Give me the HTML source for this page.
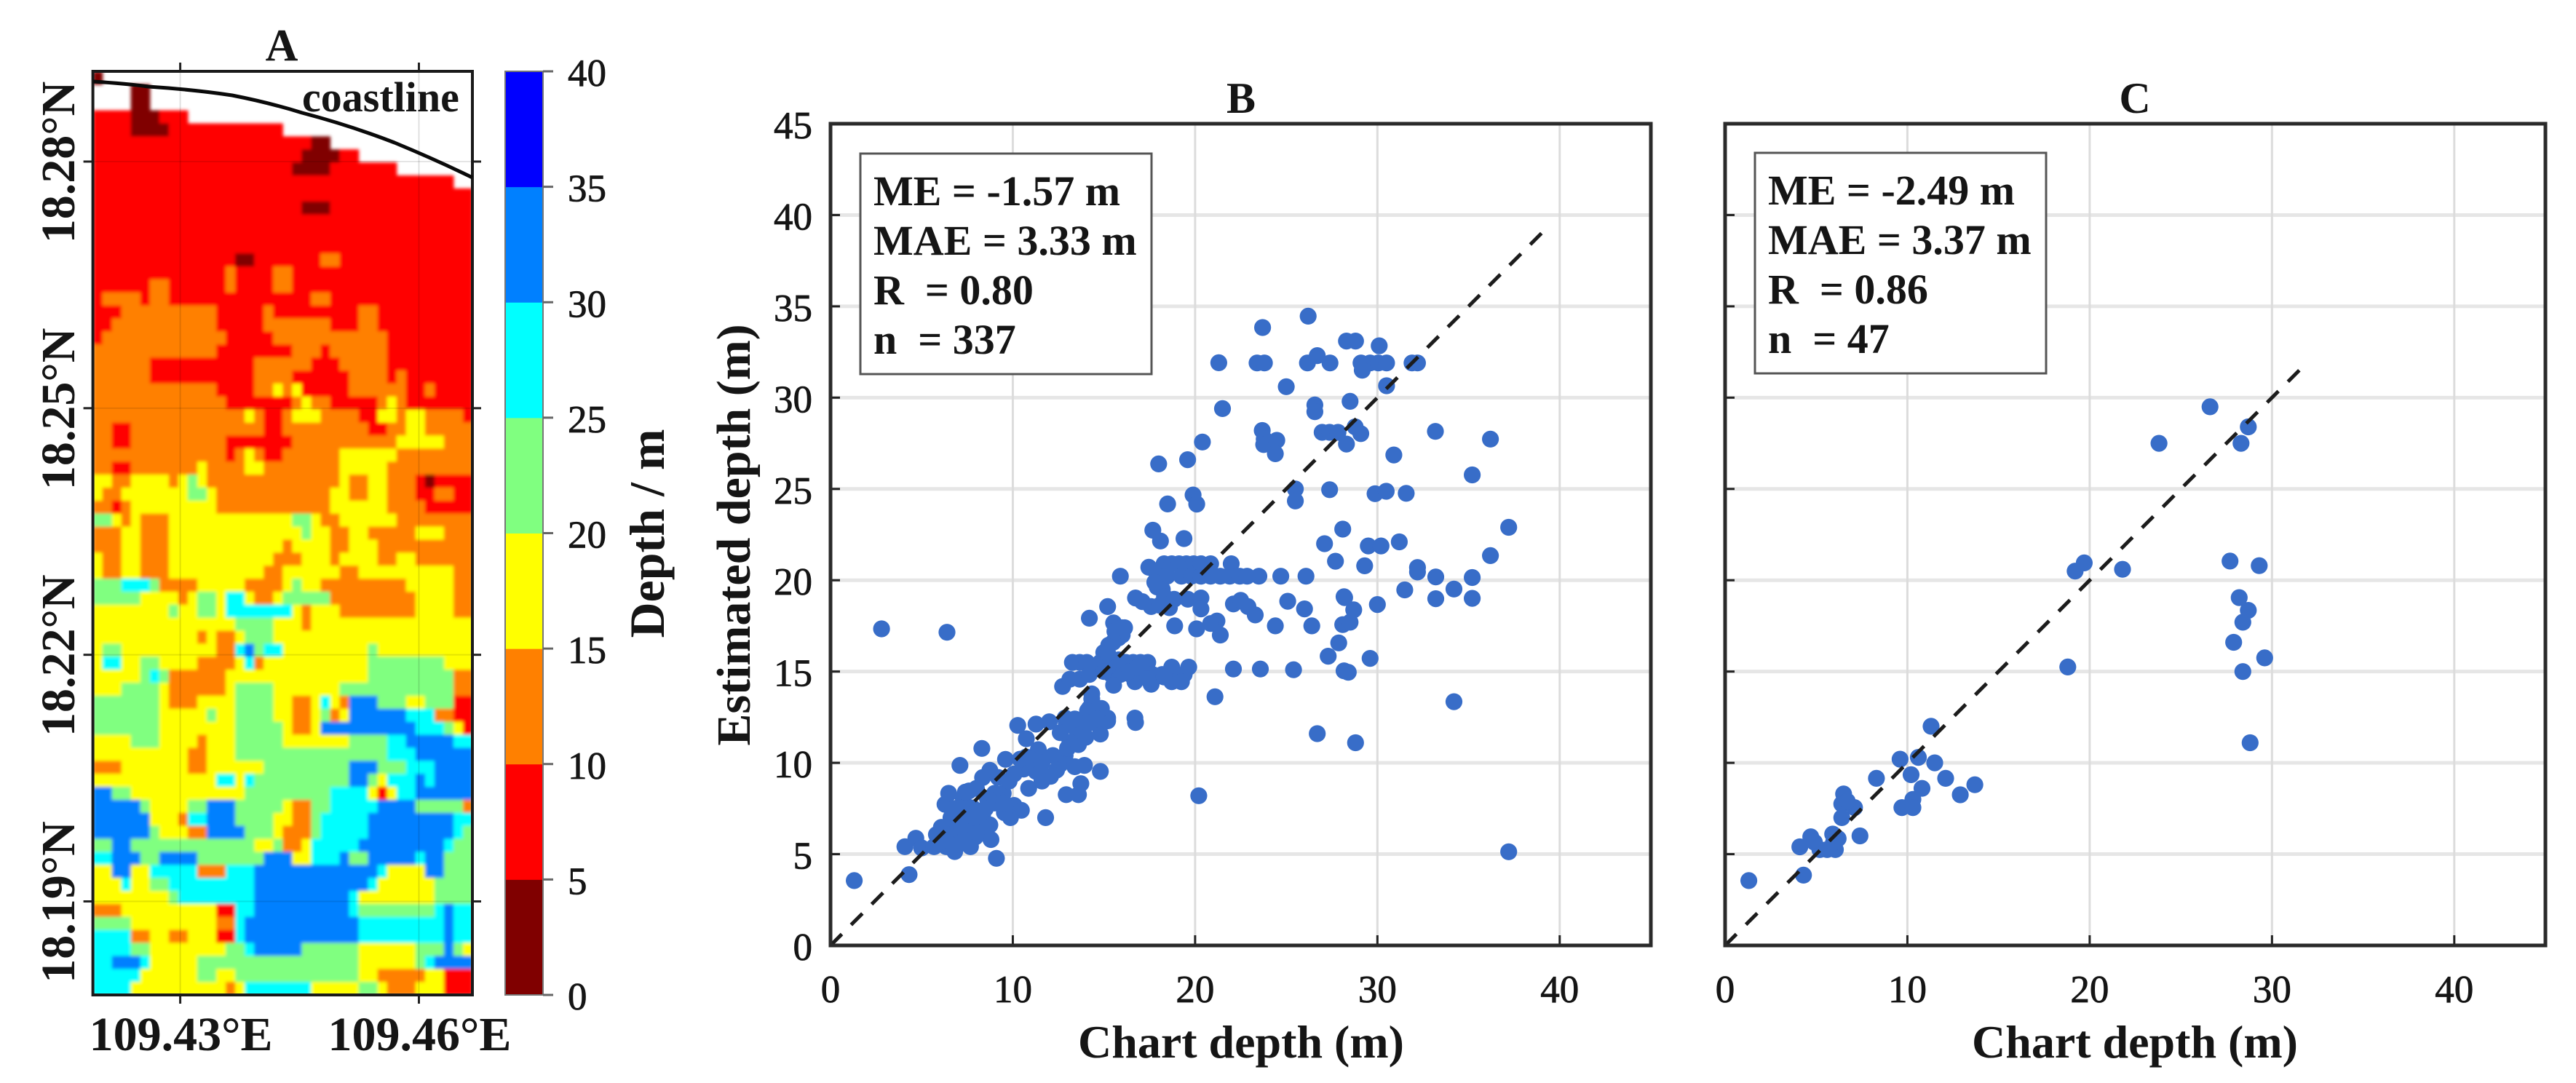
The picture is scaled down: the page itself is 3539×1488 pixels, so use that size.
<!DOCTYPE html>
<html lang="en">
<head>
<meta charset="utf-8">
<title>Depth map and scatter comparison</title>
<style>
html,body{margin:0;padding:0;background:#fff;}
svg{display:block;font-family:"Liberation Serif",serif;}
text{fill:#151515;}
.tick{font-size:53px;stroke:#151515;stroke-width:.8px;}
.bold{font-weight:bold;}
.stat{font-size:58px;font-weight:bold;white-space:pre;}
</style>
</head>
<body>
<svg id="fig" xmlns="http://www.w3.org/2000/svg" width="3539" height="1488" viewBox="0 0 3539 1488">
  <rect width="3539" height="1488" fill="#fff"/>
  <defs>
    <filter id="soft" x="0" y="0" width="100%" height="100%"><feGaussianBlur stdDeviation="2.4"/></filter>
    <clipPath id="mapClip"><rect x="128" y="98" width="521" height="1269"/></clipPath>
  </defs>
  <g id="panelA">
    <g id="heat" clip-path="url(#mapClip)"></g>
    <g id="axisA"></g>
    <path d="M128 112 Q175 115 204 119 Q265 123 319 131 Q370 141 415 155 Q480 172 542 196 Q600 220 649 244" fill="none" stroke="#0a0a0a" stroke-width="5"/>
    <text x="415" y="153" font-size="58" class="bold">coastline</text>
    <text x="387" y="83" font-size="62" class="bold" text-anchor="middle">A</text>
    <g id="colorbar"></g>
    <text transform="translate(912 733) rotate(-90)" font-size="68" class="bold" text-anchor="middle">Depth / m</text>
  </g>
  <g id="panelB">
    <text x="1705" y="155" font-size="60" class="bold" text-anchor="middle">B</text>
    <text transform="translate(1030 735) rotate(-90)" font-size="66" class="bold" text-anchor="middle">Estimated depth (m)</text>
    <text x="1705" y="1453" font-size="64" class="bold" text-anchor="middle">Chart depth (m)</text>
  </g>
  <g id="panelC">
    <text x="2933" y="155" font-size="60" class="bold" text-anchor="middle">C</text>
    <text x="2933" y="1453" font-size="64" class="bold" text-anchor="middle">Chart depth (m)</text>
  </g>
</svg>
<script>
const depthLevels = [0, 5, 10, 15, 20, 25, 30, 35, 40];
const lonTicks = [109.43, 109.46];
const latTicks = [18.28, 18.25, 18.22, 18.19];
/* depth class per grid cell: digit = depth band index, '.' = land / no data */
const depthRows = [
"0......... .......... .......... ..........",
"....00.... .......... .......... ..........",
"....00.... .......... .......... ..........",
"1111000111 .......... .......... ..........",
"1111000011 1111111111 .......... ..........",
"1111111111 1111111111 11100..... ..........",
"1111111111 1111111111 11000011.. ..........",
"1111111111 1111111111 1000011111 11........",
"1111111111 1111111111 1111111111 11111111..",
"1111111111 1111111111 1111111111 1111111111",
"1111111111 1111111111 1100011111 1111111111",
"1111111111 1111111111 1111111111 1111111111",
"1111111111 1111111111 1111111111 1111111111",
"1111111111 1111111111 1111111111 1111111111",
"1111111111 1111100111 1111221111 1111111111",
"1111111111 1111211112 2111111111 1111111111",
"1111112211 1111211112 2111111111 1111111111",
"1222212211 1111111111 1112211111 1111111111",
"1112222222 2221111121 1111111122 1111111111",
"1122222222 2221111122 2222211122 1111111111",
"1222222222 2222111112 2222222222 2111111111",
"2222222222 2221111111 1222122222 2111111111",
"2222221111 1111111222 2221112222 2111111111",
"2222221111 1111111222 2111111222 2121111111",
"2222222222 2221111223 2311111222 2221121111",
"2222222222 2222111111 1232211111 2321111111",
"2222222222 2222223211 2333222211 3323322221",
"2211222222 2222222211 2222222221 1223322222",
"2211222222 2222111111 1222222222 2233333222",
"2222222222 2222123211 2222223333 3322222222",
"2211222222 2322223322 2222223333 3222222222",
"3322333323 4322222222 2222223223 3222101111",
"3223333333 4432222222 2222233223 3222112211",
"2212333333 3332222222 2222233333 3222211111",
"4432322233 3333333333 3443223333 3322222222",
"2223322233 3333333333 3343322332 2222333222",
"2223322233 3333333333 2333322333 2222222222",
"3223322233 3333333332 2233323333 2233222222",
"3223322233 3333333322 3333332233 3333333322",
"4445554222 2333332222 3433222222 2223333322",
"4444433332 3443553223 4444422222 2222333322",
"3333333343 3443555555 5323332222 2222333322",
"3333333333 3333344443 3323333333 3333333333",
"3333333333 3232234443 3333333333 3333333333",
"3443333333 3332256455 3333333334 3333333333",
"3553344333 3222235233 3333333334 4444444333",
"3333345422 2222333333 3333333334 4444444422",
"3334444322 2222344443 3333334444 4444444422",
"4444444322 2333344443 3223532666 4443344411",
"4444444333 3343344443 3223423666 6665552211",
"4444444333 3333344444 3223666666 6666555431",
"3333444333 3233344444 3333333444 4556666655",
"3333333333 2233344444 4444444444 4555666666",
"2223333333 2233333344 4444444666 4445556666",
"3333333333 3335535444 4444444664 3555656666",
"6644333333 3333334444 4444455553 1355666666",
"6666643333 4466644444 3224455555 6666444442",
"6666663332 5566644443 3224555556 6666666655",
"6666664333 2266664443 2224555556 6666666654",
"4466444444 4444444334 2235555566 6666666544",
"5566644666 6444444466 6335556446 6666566444",
"3366335555 5222555666 6666666666 5333366444",
"3335334455 5555555666 6666666665 3333334444",
"3333333345 5555555666 6666666533 3333334444",
"2223333333 3331155666 6666666544 4444445655",
"4444333333 3332256666 6666666655 5555555655",
"5555223322 3331156666 6666666655 5555555655",
"5555443333 3333445666 6644444433 3333444643",
"5566653333 3444444444 4444444433 3333456666",
"5555533333 3443344444 4444444433 2222233111",
"5555333333 3333235555 5553333344 3222333111"
];
const scatterXTicks = [0, 10, 20, 30, 40];
const scatterYTicks = [0, 5, 10, 15, 20, 25, 30, 35, 40, 45];
const chartDepthB = [
26.2,23.7,28.3,28.8,30.1,21.3,23.4,23.8,26.16,26.7,
27.4,29.1,29.6,30.05,30.5,29.17,31.9,32.2,25.0,30.5,
28.5,21.5,26.57,26.57,26.97,27.38,27.84,28.78,29.09,28.3,
23.68,23.79,23.76,24.48,24.4,20.4,19.59,18.0,33.18,36.2,
30.9,35.2,25.5,25.5,27.38,29.87,30.48,31.58,19.89,20.09,
18.49,19.39,17.68,18.1,28.1,27.1,29.5,30.2,31.2,37.2,
27.7,29.3,36.2,32.2,32.2,33.2,35.2,23.5,24.7,26.08,
15.9,17.46,18.3,18.72,19.12,19.52,19.92,20.32,20.85,21.98,
17.92,18.46,19.25,19.79,20.32,20.85,21.38,21.9,22.45,22.85,
17.92,18.2,17.79,16.73,17.1,17.59,18.06,18.59,18.32,18.85,
19.6,20.32,20.32,15.2,14.2,15.53,16.13,18.88,20.08,21.2,
20.85,21.38,22.1,22.5,22.9,23.3,25.08,26.0,26.4,24.4,
28.17,28.1,27.88,27.3,28.17,25.4,23.58,22.1,21.09,13.27,
13.67,14.06,16.2,16.6,17.0,17.4,18.72,19.65,15.4,15.9,
16.46,17.0,17.66,18.19,18.85,19.4,15.53,17.59,16.7,18.72,
19.25,15.2,15.8,15.26,15.8,14.99,16.0,12.73,13.13,13.67,
14.2,14.33,14.2,14.86,15.2,14.2,12.87,16.7,
4.31,9.1,4.08,4.68,5.0,11.8,16.73,8.3,7.1,6.48,
6.28,14.8,13.93,13.73,13.6,12.93,10.27,11.27,12.0,10.74,
12.93,12.6,14.8,15.2,14.86,14.33,14.1,14.2,13.5,13.13,
12.87,11.4,10.74,9.6,8.74,8.34,7.6,7.28,10.6,11.27,
12.07,12.6,13.4,10.87,10.07,9.47,9.0,10.07,10.47,9.87,
9.54,8.6,7.8,8.34,8.74,8.8,7.28,6.61,6.08,5.81,
6.88,7.68,7.94,7.41,7.68,6.81,6.35,5.68,6.88,6.21,
8.48,8.08,7.15,
2.8,6.39,1.3,20.2,37.2,34.2,26.7,28.8,28.4,29.6,
28.5,28.7,28.2,30.0,31.5,33.2,34.2,35.2,
7.0,7.5,6.5,8.0,7.2,6.6,6.0,7.9,8.5,9.0,
9.5,6.8,7.4,8.0,9.2,9.8,10.4,11.0,11.6,12.2,
11.6,12.4,13.0,13.6,14.0,13.4,14.6,14.4,14.8,15.0,
16.4,16.8,17.4,18.3,15.2,15.5,15.6,16.0
];
const estimatedDepthB = [
34.46,33.84,33.1,33.1,32.84,31.91,31.9,31.9,31.9,32.3,
31.9,31.9,31.9,31.9,31.9,31.5,31.9,31.9,30.6,30.65,
29.8,29.4,29.6,29.23,28.1,28.1,28.1,28.4,28.03,27.46,
28.2,27.73,27.43,27.66,26.93,27.57,26.6,26.37,28.15,27.73,
26.86,25.77,25.0,24.34,24.96,24.74,24.87,24.76,24.67,24.17,
24.18,22.28,22.74,22.15,22.8,22.0,21.88,21.88,22.1,22.9,
21.04,20.79,21.35,20.7,20.45,20.18,20.15,20.22,20.22,20.22,
20.22,20.71,20.9,20.9,20.9,20.9,20.9,20.9,20.9,20.9,
20.22,20.22,20.22,20.22,20.22,20.22,20.22,20.22,20.22,20.22,
19.63,19.5,19.89,19.03,18.83,18.56,18.63,18.5,19.1,18.96,
18.96,19.03,18.43,18.56,17.92,17.66,17.4,17.5,17.34,17.77,
17.63,17.0,18.7,18.9,18.56,18.1,18.85,18.43,17.5,17.5,
19.1,17.57,16.57,15.84,15.04,15.1,15.14,15.14,13.62,15.5,
15.5,15.5,15.5,15.5,15.5,15.5,15.24,15.24,14.84,14.84,
14.84,14.84,14.84,14.84,14.84,14.84,14.25,14.3,14.44,14.44,
14.44,15.24,15.64,16.44,16.84,16.04,17.0,14.18,14.58,14.58,
14.84,13.78,12.99,12.72,12.45,12.45,12.45,12.45,
3.88,4.77,5.41,5.87,5.34,7.0,12.21,10.79,9.86,8.33,
7.73,9.53,9.86,8.86,8.26,8.26,12.05,12.12,12.25,11.32,
12.18,11.65,11.58,12.3,12.98,13.5,12.85,12.18,11.78,11.12,
10.39,10.72,10.32,10.19,9.59,9.19,8.46,8.07,9.66,9.53,
9.26,9.92,9.79,8.6,9.39,8.33,8.33,7.67,7.4,7.0,
7.27,8.06,7.53,7.13,6.6,5.8,7.0,7.0,6.47,6.07,
6.47,6.47,5.94,5.81,5.41,5.14,5.41,5.41,5.81,5.94,
6.47,6.87,7.53,
17.34,17.15,3.55,8.2,5.13,13.35,11.6,11.1,14.96,15.72,
17.7,18.38,19.05,18.67,19.47,18.99,19.52,19.01,
6.5,6.2,6.0,6.2,5.6,5.5,5.7,7.0,7.5,7.8,
7.8,7.5,8.4,8.6,9.2,9.0,10.2,10.2,10.0,10.4,
9.0,9.6,10.8,11.0,11.4,12.4,12.4,15.2,15.5,15.0,
15.0,15.2,14.6,14.7,16.0,16.6,17.2,17.4
];
const identityEndB = 39;
const chartDepthC = [
26.6,23.8,28.7,28.3,19.7,19.2,21.8,27.7,29.3,28.2,
28.7,28.4,27.9,29.6,28.4,18.8,28.8,11.3,10.6,9.6,
11.5,10.2,12.1,8.3,13.7,12.9,10.8,6.5,6.4,7.1,
10.3,9.7,10.3,6.4,7.4,4.7,5.9,4.1,6.2,5.2,
6.05,5.6,4.3,1.3,5.95,4.9,6.7
];
const estimatedDepthC = [
29.5,27.5,28.4,27.5,20.95,20.5,20.6,21.05,20.8,19.05,
18.35,17.7,16.6,15.75,15.0,15.25,11.1,12.0,10.3,10.2,
10.0,9.35,9.15,9.15,8.8,8.25,8.6,8.3,7.75,7.55,
8.0,7.55,7.55,7.0,6.0,5.95,6.1,5.4,5.85,5.25,
5.25,5.25,3.85,3.55,5.65,5.65,7.9
];
const identityEndC = 31.5;
const statsB = ['ME = -1.57 m', 'MAE = 3.33 m', 'R  = 0.80', 'n  = 337'];
const statsC = ['ME = -2.49 m', 'MAE = 3.37 m', 'R  = 0.86', 'n  = 47'];
const bandColors = ['#800000','#ff0000','#ff8000','#ffff00','#80ff80','#00ffff','#0080ff','#0000ff'];

const NS = 'http://www.w3.org/2000/svg';
function make(tag, parent, attrs, txt) {
  const n = document.createElementNS(NS, tag);
  for (const k in attrs) n.setAttribute(k, attrs[k]);
  if (txt !== undefined) n.textContent = txt;
  parent.appendChild(n);
  return n;
}
const mapLeft = 127.6, mapRight = 649, mapTop = 98, mapBottom = 1367;
const lonToX = v => 247.6 + (v - 109.43) * (575.5 - 247.6) / 0.03;
const latToY = v => 222 + (18.28 - v) * (1238.5 - 222) / 0.09;
const depthToBarY = d => mapBottom - d * (mapBottom - mapTop) / 40;

(function drawHeat() {
  const heat = document.getElementById('heat');
  const inner = make('g', heat, {filter: 'url(#soft)'});
  
  
  const rows = depthRows.map(r => r.replace(/ /g, ''));
  const cw = (mapRight - mapLeft) / 40;
  const ch = (mapBottom - mapTop) / rows.length;
  rows.forEach((row, r) => {
    let c = 0;
    while (c < row.length) {
      let e = c;
      while (e + 1 < row.length && row[e + 1] === row[c]) e++;
      if (row[c] !== '.') {
        const cell = make('rect', inner, {
          x: (mapLeft + c * cw).toFixed(2), y: (mapTop + r * ch).toFixed(2),
          width: ((e - c + 1) * cw + 0.6).toFixed(2), height: (ch + 0.6).toFixed(2),
          fill: bandColors[+row[c]]
        });
        
        
      }
      c = e + 1;
    }
  });
})();

(function drawAxisA() {
  const g = document.getElementById('axisA');
  lonTicks.forEach(v => {
    const x = lonToX(v);
    const grid = make('line', g, {x1: x, x2: x, y1: mapTop, y2: mapBottom, stroke: '#000', 'stroke-opacity': .12, 'stroke-width': 2});
    
    
    const top = make('line', g, {x1: x, x2: x, y1: mapTop - 12, y2: mapTop, stroke: '#222', 'stroke-width': 3});
    
    
    const bot = make('line', g, {x1: x, x2: x, y1: mapBottom, y2: mapBottom + 12, stroke: '#222', 'stroke-width': 3});
    
    
    const t = make('text', g, {x: x + 1, y: 1443, 'font-size': 66, 'font-weight': 'bold', 'text-anchor': 'middle'}, v.toFixed(2) + '°E');
    
    
  });
  latTicks.forEach(v => {
    const y = latToY(v);
    const grid = make('line', g, {x1: mapLeft, x2: mapRight, y1: y, y2: y, stroke: '#000', 'stroke-opacity': .1, 'stroke-width': 2});
    
    
    const l = make('line', g, {x1: mapLeft - 13, x2: mapLeft, y1: y, y2: y, stroke: '#222', 'stroke-width': 3});
    
    
    const r = make('line', g, {x1: mapRight, x2: mapRight + 12, y1: y, y2: y, stroke: '#222', 'stroke-width': 3});
    
    
    const t = make('text', g, {transform: 'translate(102 ' + (y + 1) + ') rotate(-90)', 'font-size': 66, 'font-weight': 'bold', 'text-anchor': 'middle'}, v.toFixed(2) + '°N');
    
    
  });
  const frame = make('rect', g, {x: mapLeft, y: mapTop, width: mapRight - mapLeft, height: mapBottom - mapTop, fill: 'none', stroke: '#1a1a1a', 'stroke-width': 4});
  
  
})();

(function drawColorbar() {
  const g = document.getElementById('colorbar');
  const barL = 694, barR = 746;
  bandColors.forEach((col, i) => {
    const y1 = depthToBarY(depthLevels[i + 1]), y0 = depthToBarY(depthLevels[i]);
    const band = make('rect', g, {x: barL, y: y1, width: barR - barL, height: y0 - y1 + .5, fill: col});
    
    
  });
  const edge = make('rect', g, {x: barL, y: mapTop, width: barR - barL, height: mapBottom - mapTop, fill: 'none', stroke: '#777', 'stroke-width': 2});
  
  
  depthLevels.forEach(d => {
    const y = depthToBarY(d);
    const tk = make('line', g, {x1: barR, x2: barR + 14, y1: y, y2: y, stroke: '#666', 'stroke-width': 3});
    
    
    const t = make('text', g, {x: 780, y: y + 20, class: 'tick'}, String(d));
    
    
  });
})();

function drawScatter(cfg) {
  const g = document.getElementById(cfg.id);
  const sx = v => cfg.left + v * (cfg.right - cfg.left) / 45;
  const sy = v => cfg.bottom - v * (cfg.bottom - cfg.top) / 45;
  scatterYTicks.forEach(v => {
    if (v > 0 && v < 45) {
      const gl = make('line', g, {x1: cfg.left, x2: cfg.right, y1: sy(v), y2: sy(v), stroke: '#e6e6e6', 'stroke-width': 5});
      
      
    }
  });
  scatterXTicks.forEach(v => {
    if (v > 0) {
      const gl = make('line', g, {x1: sx(v), x2: sx(v), y1: cfg.top, y2: cfg.bottom, stroke: '#dcdcdc', 'stroke-width': 3});
      
      
    }
  });
  cfg.xs.forEach((xv, i) => {
    const dot = make('circle', g, {cx: sx(xv).toFixed(1), cy: sy(cfg.ys[i]).toFixed(1), r: 11.6, fill: '#386dc8'});
    
    
  });
  const lineLen = Math.hypot(sx(cfg.lineEnd) - sx(0), sy(0) - sy(cfg.lineEnd));
  const dash = 22;
  const period = (lineLen - dash) / Math.round((lineLen - dash) / 40);
  const refLine = make('line', g, {x1: sx(0), y1: sy(0), x2: sx(cfg.lineEnd), y2: sy(cfg.lineEnd), stroke: '#1c1c1c', 'stroke-width': 5, 'stroke-dasharray': dash + ' ' + (period - dash).toFixed(2)});
  
  
  scatterXTicks.forEach(v => {
    const tk = make('line', g, {x1: sx(v), x2: sx(v), y1: cfg.bottom - 14, y2: cfg.bottom, stroke: '#222', 'stroke-width': 3});
    
    
    const t = make('text', g, {x: sx(v), y: 1377, class: 'tick', 'text-anchor': 'middle'}, String(v));
    
    
  });
  scatterYTicks.forEach(v => {
    const tk = make('line', g, {x1: cfg.left, x2: cfg.left + 13, y1: sy(v), y2: sy(v), stroke: '#222', 'stroke-width': 3});
    
    
    if (cfg.yLabels) {
      const t = make('text', g, {x: cfg.left - 25, y: sy(v) + 20, class: 'tick', 'text-anchor': 'end'}, String(v));
      
      
    }
  });
  const frame = make('rect', g, {x: cfg.left, y: cfg.top, width: cfg.right - cfg.left, height: cfg.bottom - cfg.top, fill: 'none', stroke: '#2a2a2a', 'stroke-width': 5});
  
  
  const box = make('rect', g, {x: cfg.boxX, y: cfg.boxY, width: cfg.boxW, height: 303, fill: '#fff', stroke: '#555', 'stroke-width': 3});
  
  
  cfg.stats.forEach((s, i) => {
    const t = make('text', g, {x: cfg.boxX + 18, y: cfg.boxY + 71 + i * 68, class: 'stat'}, s);
    
    
  });
}

drawScatter({id: 'panelB', left: 1141, right: 2268, top: 170, bottom: 1299, xs: chartDepthB, ys: estimatedDepthB,
  lineEnd: identityEndB, yLabels: true, boxX: 1182, boxY: 211, boxW: 400, stats: statsB});
drawScatter({id: 'panelC', left: 2370, right: 3497, top: 170, bottom: 1299, xs: chartDepthC, ys: estimatedDepthC,
  lineEnd: identityEndC, yLabels: false, boxX: 2411, boxY: 210, boxW: 400, stats: statsC});
</script>
</body>
</html>
